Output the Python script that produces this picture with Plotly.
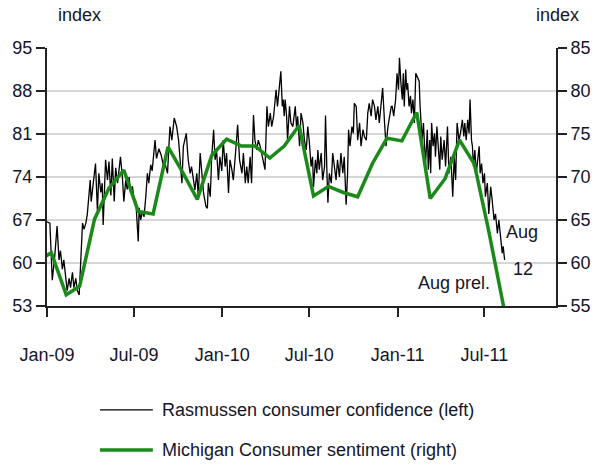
import plotly.graph_objects as go
import pandas as pd

# Rasmussen consumer confidence (left axis): day offset from 2009-01-01, index value
ras_day = [0, 6, 11, 16, 21, 25, 28, 32, 35, 39, 42, 46, 49, 53, 56, 60, 63, 67, 70, 74,
           77, 81, 84, 87, 90, 92, 96, 101, 105, 108, 112, 115, 117, 122, 126, 129, 133, 136, 140, 143,
           147, 150, 153, 157, 160, 164, 167, 171, 174, 178, 181, 185, 190, 192, 195, 199, 202, 206, 209, 212,
           216, 219, 223, 225, 228, 233, 238,
           242, 246, 251, 256, 260, 265, 270, 274, 277, 281, 284, 290, 294, 298, 301, 305, 308, 312, 315, 319,
           322, 326, 331, 334, 336, 340, 343, 347, 350, 353, 357, 360, 364, 367, 371, 374, 378, 381, 385, 388,
           392, 397, 401, 406, 409, 413, 416, 419, 423, 426, 430, 433, 437, 440, 444, 447, 451, 454, 458, 461,
           465, 468, 472, 475,
           477, 480, 484, 487, 490, 492, 494, 496, 499, 501, 505, 508, 512, 515, 517, 520, 522, 526, 529, 533,
           536, 540, 543, 546, 550, 553, 555, 559, 562, 564, 567, 571, 574, 578, 580, 583, 585, 588, 592, 595,
           599, 602, 605, 609, 612, 616, 619, 623, 626, 628, 631, 635, 638, 640, 644, 647, 651, 654, 658, 661,
           665, 668, 671, 675, 678, 682, 685, 689, 692, 696, 699, 703, 706, 710, 713, 717,
           719, 722, 726, 729, 732, 734, 737, 740, 742, 744, 747, 749, 751, 754, 757, 759, 762, 765, 768, 771,
           775, 777, 779, 781, 784, 786, 788, 792, 794, 797, 799, 801, 804, 807, 809, 812, 815, 818, 820, 823,
           827, 830, 834, 837, 841, 843, 845, 848, 851, 854, 858, 861, 865, 868, 870, 873, 876, 879, 881, 884,
           886, 888, 891, 894, 897, 900, 902, 905, 908, 911, 913, 917, 920, 924, 927, 931, 934, 938, 941, 945,
           948, 950, 953]
ras_val = [66.7, 66.5, 57.2, 61, 66, 60.5, 62, 59, 60.5, 58, 55.5, 57.5, 56, 58.5, 56, 57.5, 55.5, 54.8, 60, 66.5,
           65.5, 66.5, 68, 71, 73.5, 70, 73, 76.2, 68.5, 74.6, 71.5, 73, 66.2, 76.8, 73.5, 76.5, 71, 77, 70, 75.5,
           73, 75.5, 77.3, 74, 70, 73.5, 72, 74, 71.5, 72.5, 70.5, 70, 63.5, 69, 67, 68.5, 67.5, 71, 74.6, 73,
           76, 75, 78.4, 80, 77, 78.6, 77.5,
           76, 76.2, 74.6, 82.2, 80, 83.6, 82.2, 80, 77.3, 73, 79, 81.1, 76.8, 74.6, 75.7, 73.5, 71.9, 74.6, 70.8, 77.9,
           74.6, 71.4, 69.2, 68.9, 73, 70.8, 77.3, 81.7, 76.8, 78.4, 73.5, 77.3, 75, 80, 75.7, 77.9, 71.4, 76.8, 75.2, 73.5,
           77.3, 82.5, 76.8, 74.6, 77.9, 73, 75.7, 73, 77.3, 73, 84.1, 80, 78.4, 80, 79, 77.9, 76.8, 75.2, 85.5, 82.2,
           84.4, 82.2, 83.9, 86.6,
           88.2, 85.5, 89.3, 91.2, 85.5, 86.6, 83.9, 86.6, 83.9, 80, 85.5, 82.8, 82.2, 83.9, 85.5, 81.7, 83.9, 79, 84.4, 82.8,
           80, 78.4, 82.2, 80, 75.7, 77.3, 72.4, 76.8, 74.6, 78.4, 75.2, 77.9, 73.5, 75.7, 84, 74.6, 69.8, 74.6, 73, 77.9,
           75.7, 73.5, 76.8, 74, 77.9, 74.6, 77.3, 69.5, 74.6, 81.7, 79, 82.2, 81.1, 86, 85.5, 80, 82.8, 79, 81.7, 80.6,
           80, 84.4, 86, 83.9, 86.6, 85.5, 83.3, 85.5, 82.8, 86, 88.5, 82.8, 79, 82.2, 83.9, 85.5,
           85.5, 83.9, 86.6, 90.9, 88.2, 93.4, 89.3, 86.6, 90.9, 85.5, 91.5, 88.2, 89.3, 85.5, 87.2, 84.4, 86.6, 82.8, 90.9, 90.4,
           89.6, 85.5, 82.8, 80, 82.8, 77.9, 75.7, 81.7, 75.2, 80, 74.6, 82.8, 79, 81.1, 77.3, 82.2, 79, 75.2, 80.6, 76.8,
           80, 75.7, 82.2, 74.6, 77.3, 73, 70.8, 77.3, 73.5, 82.8, 80, 81.1, 83.3, 80.6, 82.8, 80, 83.3, 81.1, 86.6, 80,
           79, 75.7, 78.4, 74.6, 76.8, 79, 74.6, 76.2, 73, 74.6, 70.8, 73, 68, 72.4, 70.3, 67, 68, 64.8, 67, 63.7,
           61.6, 62.7, 60.5]

# Michigan consumer sentiment (right axis), monthly
mich_date = ["2008-12-10", "2009-01-10", "2009-02-10", "2009-03-10", "2009-04-10", "2009-05-10", "2009-06-10",
             "2009-07-10", "2009-08-10", "2009-09-10", "2009-10-10", "2009-11-10", "2009-12-10",
             "2010-01-10", "2010-02-10", "2010-03-10", "2010-04-10", "2010-05-10", "2010-06-10",
             "2010-07-10", "2010-08-10", "2010-09-10", "2010-10-10", "2010-11-10", "2010-12-10",
             "2011-01-10", "2011-02-10", "2011-03-10", "2011-04-10", "2011-05-10", "2011-06-10",
             "2011-07-10", "2011-08-10"]
mich_val = [60.1, 61.2, 56.3, 57.3, 65.1, 68.7, 70.8, 66.0, 65.7, 73.5, 70.6, 67.4, 72.5,
            74.4, 73.6, 73.6, 72.2, 73.6, 76.0, 67.8, 68.9, 68.2, 67.7, 71.6, 74.5,
            74.2, 77.5, 67.5, 69.8, 74.3, 71.5, 63.7, 54.9]

x_tickvals = ["2009-01-01", "2009-07-01", "2010-01-01", "2010-07-01", "2011-01-01", "2011-07-01"]
x_ticktext = ["Jan-09", "Jul-09", "Jan-10", "Jul-10", "Jan-11", "Jul-11"]
left_ticks = [53, 60, 67, 74, 81, 88, 95]
right_ticks = [55, 60, 65, 70, 75, 80, 85]

series_names = ["Rasmussen consumer confidence (left)", "Michigan Consumer sentiment (right)"]

FONT = "Liberation Sans, Arial, sans-serif"
TXT = "#15152a"
GREEN = "#1b8a1b"
FS = 18

ras_dates = pd.to_datetime("2009-01-01") + pd.to_timedelta(ras_day, unit="D")

fig = go.Figure()
fig.add_trace(go.Scatter(x=ras_dates, y=ras_val, mode="lines", name=series_names[0],
                         line=dict(color="#000000", width=1.3), yaxis="y"))
fig.add_trace(go.Scatter(x=pd.to_datetime(mich_date), y=mich_val, mode="lines", name=series_names[1],
                         line=dict(color=GREEN, width=3.5), yaxis="y2"))

fig.update_layout(
    width=598, height=466,
    margin=dict(l=47, r=42, t=48, b=160, autoexpand=False),
    paper_bgcolor="white", plot_bgcolor="white",
    showlegend=False,
    font=dict(family=FONT, size=FS, color=TXT),
    xaxis=dict(range=["2009-01-01", "2011-11-27"], tickvals=x_tickvals, ticktext=x_ticktext,
               ticks="outside", ticklen=9, tickwidth=1.5, tickcolor="#222",
               showline=True, linecolor="#222", linewidth=2, showgrid=False, zeroline=False,
               ticklabelstandoff=22, tickfont=dict(size=FS), automargin=False),
    yaxis=dict(range=[53, 95], tickvals=left_ticks, ticks="outside", ticklen=9, tickwidth=1.5,
               tickcolor="#222", showline=True, linecolor="#222", linewidth=2,
               showgrid=True, gridcolor="#d6d6d6", gridwidth=1.5, zeroline=False,
               tickfont=dict(size=FS), automargin=False),
    yaxis2=dict(range=[55, 85], tickvals=right_ticks, overlaying="y", side="right",
                ticks="outside", ticklen=9, tickwidth=1.5, tickcolor="#222",
                showline=True, linecolor="#222", linewidth=2, showgrid=False, zeroline=False,
                tickfont=dict(size=FS), automargin=False),
)

ann = [
    dict(text="index", x=0.063, y=1.128, xref="paper", yref="paper", showarrow=False,
         xanchor="center", yanchor="middle"),
    dict(text="index", x=1.002, y=1.128, xref="paper", yref="paper", showarrow=False,
         xanchor="center", yanchor="middle"),
    dict(text="Aug", x=0.933, y=0.287, xref="paper", yref="paper", showarrow=False,
         xanchor="center", yanchor="middle"),
    dict(text="12", x=0.935, y=0.143, xref="paper", yref="paper", showarrow=False,
         xanchor="center", yanchor="middle"),
    dict(text="Aug prel.", x=0.8, y=0.089, xref="paper", yref="paper", showarrow=False,
         xanchor="center", yanchor="middle"),
    dict(text=series_names[0], x=0.222, y=-0.403, xref="paper", yref="paper", showarrow=False,
         xanchor="left", yanchor="middle"),
    dict(text=series_names[1], x=0.222, y=-0.558, xref="paper", yref="paper", showarrow=False,
         xanchor="left", yanchor="middle"),
]
fig.update_layout(annotations=ann)

fig.add_shape(type="line", xref="paper", yref="paper", x0=0.104, x1=0.208, y0=-0.403, y1=-0.403,
              line=dict(color="#000000", width=1.3))
fig.add_shape(type="line", xref="paper", yref="paper", x0=0.104, x1=0.208, y0=-0.558, y1=-0.558,
              line=dict(color=GREEN, width=3.5))

fig.write_html("out.html", config={"displayModeBar": False},
               post_script="document.body.style.margin='0';document.body.style.overflow='hidden';")
